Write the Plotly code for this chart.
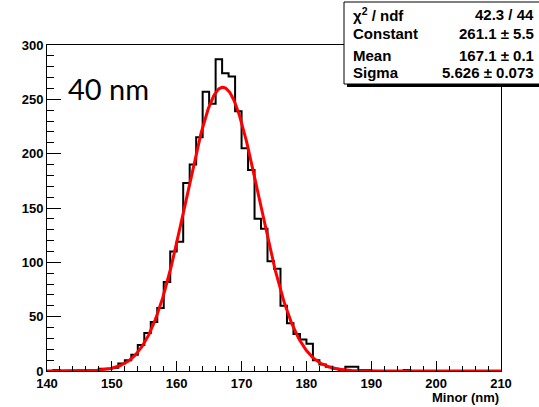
import numpy as np
import plotly.graph_objects as go

# ---- data ----
bin_edges = list(range(140, 211))  # 1 nm bins, 140..210
counts = [
    0, 1, 0, 0, 0, 0, 0, 1, 2, 2,          # 140-149
    3, 7, 10, 15, 24, 35, 45, 58, 82, 110,  # 150-159
    119, 173, 190, 215, 257, 246, 287, 274, 271, 239,  # 160-169
    205, 185, 140, 131, 101, 94, 60, 44, 34, 29,       # 170-179
    25, 10, 6, 4, 2, 1, 4, 4, 1, 1,        # 180-189
    0, 0, 0, 0, 0, 1, 0, 0, 0, 0,          # 190-199
    0, 0, 0, 0, 0, 0, 0, 0, 0, 0,          # 200-209
]
fit_constant = 261.1
fit_mean = 167.1
fit_sigma = 5.626
stats_labels = ["χ<sup>2</sup> / ndf", "Constant", "Mean", "Sigma"]
stats_values = ["42.3 / 44", "261.1 ± 5.5", "167.1 ± 0.1", "5.626 ± 0.073"]
x_ticks = [140, 150, 160, 170, 180, 190, 200, 210]
y_ticks = [0, 50, 100, 150, 200, 250, 300]

W, H = 539, 407
L, R, T, B = 47, 38, 45, 36
pw, ph = W - L - R, H - T - B

def px(xp):
    return (xp - L) / pw

def py(yp):
    return (H - B - yp) / ph

fig = go.Figure()

# histogram outline
hx = bin_edges
hy = counts + [counts[-1]]
fig.add_trace(go.Scatter(x=hx, y=hy, mode="lines", line=dict(color="black", width=2, shape="hv"),
                         hoverinfo="skip", showlegend=False))

# gaussian fit
fx = np.linspace(140, 210, 701)
fy = fit_constant * np.exp(-0.5 * ((fx - fit_mean) / fit_sigma) ** 2)
fig.add_trace(go.Scatter(x=fx, y=fy, mode="lines", line=dict(color="#ff0000", width=3),
                         hoverinfo="skip", showlegend=False))

tickfont = dict(family="Liberation Sans, Arial", size=13, color="black", weight="bold")

fig.update_xaxes(range=[140, 210], tickvals=x_ticks, ticks="inside", ticklen=10, tickwidth=1,
                 tickcolor="black", showgrid=False, zeroline=False, showline=True, linecolor="black",
                 linewidth=1, mirror=True, tickfont=tickfont,
                 minor=dict(dtick=2, ticks="inside", ticklen=5, tickcolor="black", tickwidth=1, showgrid=False))
fig.update_yaxes(range=[0, 300], tickvals=y_ticks, ticks="inside", ticklen=14, tickwidth=1,
                 tickcolor="black", showgrid=False, zeroline=False, showline=True, linecolor="black",
                 linewidth=1, mirror=True, tickfont=tickfont,
                 minor=dict(dtick=10, ticks="inside", ticklen=7, tickcolor="black", tickwidth=1, showgrid=False))

shapes = []
# stats box with shadow (extends past the right edge, as in the reference)
shapes.append(dict(type="rect", xref="paper", yref="paper", x0=px(347), x1=px(560), y0=py(87), y1=py(5),
                   fillcolor="black", line=dict(width=0), layer="above"))
shapes.append(dict(type="rect", xref="paper", yref="paper", x0=px(344), x1=px(556), y0=py(84), y1=py(2),
                   fillcolor="white", line=dict(color="black", width=1), layer="above"))

annotations = []
row_y = [14, 34, 55, 73]
sfont = dict(family="Liberation Sans, Arial", size=15, color="black", weight="bold")
for lab, val, yy in zip(stats_labels, stats_values, row_y):
    annotations.append(dict(x=px(351), y=py(yy), xref="paper", yref="paper", text=lab, showarrow=False,
                            xanchor="left", yanchor="middle", font=sfont))
    annotations.append(dict(x=px(536), y=py(yy), xref="paper", yref="paper", text=val, showarrow=False,
                            xanchor="right", yanchor="middle", font=sfont))

annotations.append(dict(x=px(66), y=py(88), xref="paper", yref="paper", text="40 nm", showarrow=False,
                        xanchor="left", yanchor="middle",
                        font=dict(family="Lato, Open Sans", size=29, color="black")))
annotations.append(dict(x=px(501), y=py(397), xref="paper", yref="paper", text="Minor (nm)", showarrow=False,
                        xanchor="right", yanchor="middle", font=sfont | dict(size=13)))

fig.update_layout(width=W, height=H, margin=dict(l=L, r=R, t=T, b=B, pad=0),
                  paper_bgcolor="white", plot_bgcolor="white", shapes=shapes, annotations=annotations,
                  showlegend=False)

fig.write_html("out.html", config={"displayModeBar": False},
               post_script="document.body.style.margin='0';document.body.style.overflow='hidden';")
